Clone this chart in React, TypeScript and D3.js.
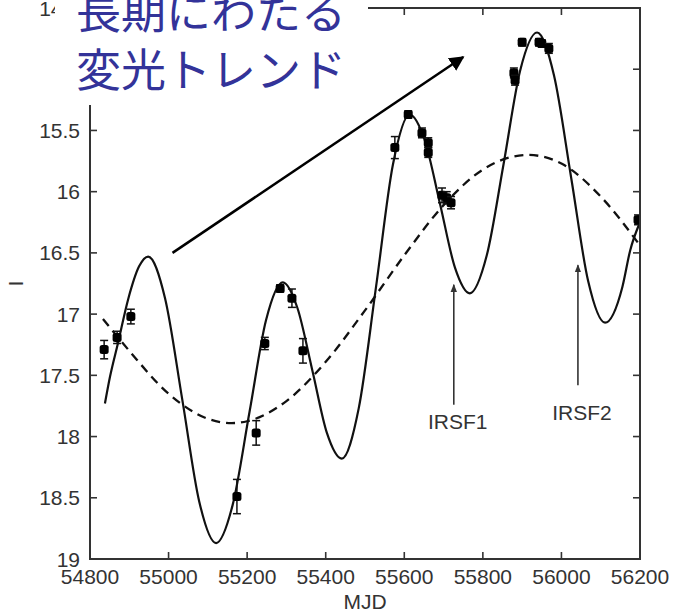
import React from "react";
import * as d3 from "d3";

const W = 679;
const H = 614;

// Fitted light curve (solid): MJD, I
const solidMJD = [54838, 54851, 54871, 54897, 54925, 54948, 54991, 55035, 55078, 55121, 55163, 55206, 55248, 55291, 55328, 55366, 55403, 55441, 55484, 55528, 55571, 55614, 55652, 55691, 55729, 55767, 55810, 55853, 55895, 55938, 55981, 56025, 56068, 56111, 56155, 56175, 56200];
const solidI = [17.73, 17.51, 17.24, 16.88, 16.61, 16.53, 16.87, 17.70, 18.53, 18.87, 18.56, 17.80, 17.05, 16.74, 16.95, 17.46, 17.97, 18.18, 17.77, 16.78, 15.78, 15.37, 15.58, 16.10, 16.62, 16.83, 16.52, 15.77, 15.01, 14.70, 15.05, 15.89, 16.73, 17.07, 16.78, 16.48, 16.25];

// Long-term trend (dashed)
const trendMJD = [54833, 54900, 55000, 55100, 55161, 55200, 55300, 55400, 55500, 55600, 55700, 55800, 55915, 56000, 56100, 56200];
const trendI = [17.04, 17.30, 17.65, 17.855, 17.89, 17.875, 17.71, 17.39, 16.97, 16.52, 16.11, 15.82, 15.70, 15.77, 16.04, 16.44];

// Observations: MJD, I, error
const obsMJD = [54836, 54869, 54904, 55174, 55223, 55245, 55284, 55314, 55342, 55576, 55610, 55645, 55661, 55661, 55696, 55708, 55719, 55879, 55882, 55900, 55943, 55950, 55968, 56195];
const obsI = [17.29, 17.19, 17.02, 18.49, 17.97, 17.24, 16.79, 16.87, 17.30, 15.64, 15.37, 15.52, 15.60, 15.68, 16.03, 16.05, 16.09, 15.03, 15.09, 14.78, 14.78, 14.79, 14.83, 16.23];
const obsErr = [0.075, 0.05, 0.06, 0.14, 0.1, 0.05, 0.03, 0.075, 0.1, 0.09, 0.03, 0.04, 0.04, 0.04, 0.06, 0.05, 0.05, 0.04, 0.04, 0.03, 0.03, 0.03, 0.04, 0.04];

const xTicks = [54800, 55000, 55200, 55400, 55600, 55800, 56000, 56200];
const yTicks = [14.5, 15, 15.5, 16, 16.5, 17, 17.5, 18, 18.5, 19];

const titleLines = ["長期にわたる", "変光トレンド"];
const xLabel = "MJD";
const yLabel = "I";

// Annotations in data coordinates
const trendArrow = { from: [55010, 16.5], to: [55750, 14.9] };
const irsf = [
  { name: "IRSF1", mjd: 55726, from: 17.74, to: 16.76, label: 17.88 },
  { name: "IRSF2", mjd: 56042, from: 17.58, to: 16.6, label: 17.8 },
];

export default function App() {
  const left = 90, right = 640, top = 8, bottom = 559;
  const x = d3.scaleLinear().domain([54800, 56200]).range([left, right]);
  const y = d3.scaleLinear().domain([14.5, 19]).range([top, bottom]);

  const line = d3
    .line<[number, number]>()
    .x((d) => x(d[0]))
    .y((d) => y(d[1]))
    .curve(d3.curveMonotoneX);

  const solid = line(solidMJD.map((m, i) => [m, solidI[i]] as [number, number])) || "";
  const trend = line(trendMJD.map((m, i) => [m, trendI[i]] as [number, number])) || "";

  const font = "'Liberation Sans', Arial, sans-serif";
  const axisColor = "#333";
  const tickLen = 7;

  const ax1 = x(trendArrow.from[0]), ay1 = y(trendArrow.from[1]);
  const ax2 = x(trendArrow.to[0]), ay2 = y(trendArrow.to[1]);

  return (
    <div style={{ position: "fixed", left: 0, top: 0, width: W, height: H }}>
      <svg width={W} height={H} style={{ display: "block", background: "#fff" }}>
        <defs>
          <clipPath id="plot">
            <rect x={left} y={top} width={right - left} height={bottom - top} />
          </clipPath>
          <marker id="bigHead" viewBox="0 0 10 10" refX="9" refY="5" markerWidth="6" markerHeight="6" orient="auto" markerUnits="strokeWidth">
            <path d="M0,0 L10,5 L0,10 z" fill="#000" />
          </marker>
          <marker id="smallHead" viewBox="0 0 10 10" refX="9" refY="5" markerWidth="5" markerHeight="5" orient="auto" markerUnits="strokeWidth">
            <path d="M0,1 L10,5 L0,9 z" fill="#333" />
          </marker>
        </defs>

        <g clipPath="url(#plot)">
          <path d={trend} fill="none" stroke="#111" strokeWidth={2.3} strokeDasharray="9,6" />
          <path d={solid} fill="none" stroke="#111" strokeWidth={2.2} />
          {obsMJD.map((m, i) => {
            const cx = x(m), cy = y(obsI[i]);
            const y1 = y(obsI[i] - obsErr[i]), y2 = y(obsI[i] + obsErr[i]);
            return (
              <g key={i}>
                <line x1={cx} x2={cx} y1={y1} y2={y2} stroke="#111" strokeWidth={1.5} />
                <line x1={cx - 4} x2={cx + 4} y1={y1} y2={y1} stroke="#111" strokeWidth={1.5} />
                <line x1={cx - 4} x2={cx + 4} y1={y2} y2={y2} stroke="#111" strokeWidth={1.5} />
                <rect x={cx - 4.5} y={cy - 4.5} width={9} height={9} rx={2.5} fill="#000" />
              </g>
            );
          })}
        </g>

        {/* frame */}
        <rect x={left} y={top} width={right - left} height={bottom - top} fill="none" stroke={axisColor} strokeWidth={2} />
        {xTicks.map((t) => (
          <g key={"x" + t}>
            <line x1={x(t)} x2={x(t)} y1={bottom} y2={bottom - tickLen} stroke={axisColor} strokeWidth={1.6} />
            <line x1={x(t)} x2={x(t)} y1={top} y2={top + tickLen} stroke={axisColor} strokeWidth={1.6} />
            <text x={x(t)} y={bottom + 25} textAnchor="middle" fontFamily={font} fontSize={21} fill="#333">
              {t}
            </text>
          </g>
        ))}
        {yTicks.map((t) => (
          <g key={"y" + t}>
            <line x1={left} x2={left + tickLen} y1={y(t)} y2={y(t)} stroke={axisColor} strokeWidth={1.6} />
            <line x1={right} x2={right - tickLen} y1={y(t)} y2={y(t)} stroke={axisColor} strokeWidth={1.6} />
            <text x={left - 10} y={y(t)} dy="0.36em" textAnchor="end" fontFamily={font} fontSize={21} fill="#333">
              {String(t)}
            </text>
          </g>
        ))}
        <text x={(left + right) / 2} y={609} textAnchor="middle" fontFamily={font} fontSize={21} fill="#333">
          {xLabel}
        </text>
        <text transform={`translate(23,${(top + bottom) / 2}) rotate(-90)`} textAnchor="middle" fontFamily={font} fontSize={21} fill="#333">
          {yLabel}
        </text>

        {/* IRSF annotations */}
        {irsf.map((a) => (
          <g key={a.name}>
            <line x1={x(a.mjd)} x2={x(a.mjd)} y1={y(a.from)} y2={y(a.to)} stroke="#333" strokeWidth={1.6} markerEnd="url(#smallHead)" />
            <text x={x(a.mjd) + 4} y={y(a.label)} dy="0.36em" textAnchor="middle" fontFamily={font} fontSize={21} fill="#333">
              {a.name}
            </text>
          </g>
        ))}

        {/* trend arrow */}
        <line x1={ax1} y1={ay1} x2={ax2} y2={ay2} stroke="#000" strokeWidth={2.5} markerEnd="url(#bigHead)" />

        {/* title overlay */}
        <rect x={55} y={0} width={313} height={105} fill="#fff" />
        {titleLines.map((s, i) => (
          <text key={i} x={76} y={29 + i * 58} fontFamily="'Noto Sans CJK JP', sans-serif" fontSize={45} fill="#333399">
            {s}
          </text>
        ))}
      </svg>
    </div>
  );
}
